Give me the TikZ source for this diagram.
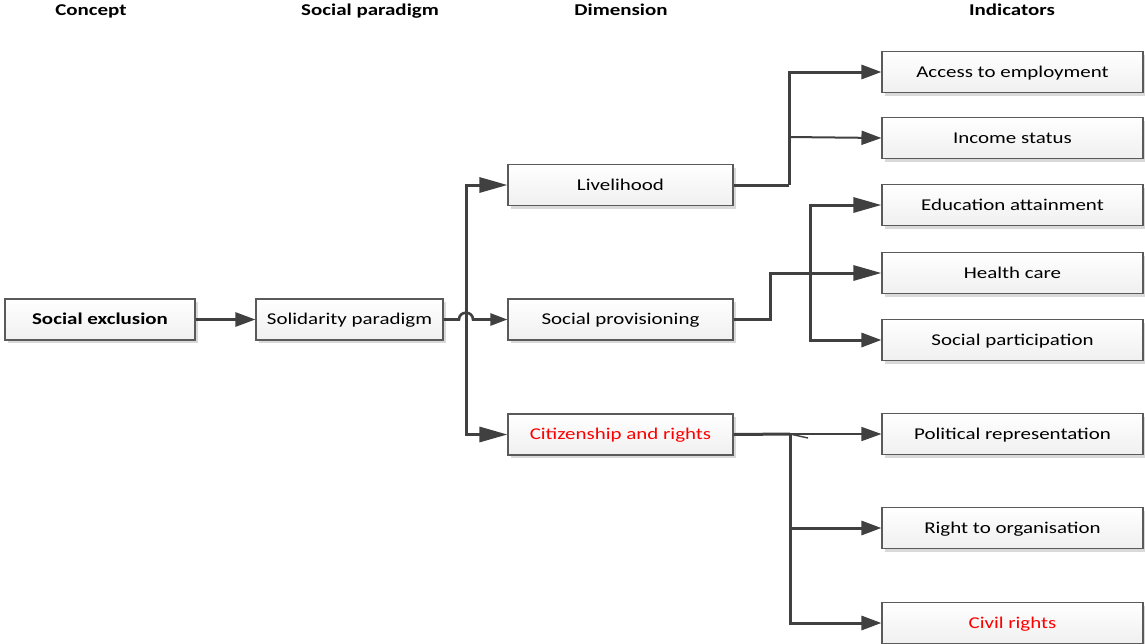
\documentclass[tikz,border=0pt]{standalone}
\usepackage{fontspec}
\setmainfont{Carlito}[FakeStretch=1.27]
\usetikzlibrary{arrows.meta,shadows,calc}
\definecolor{ln}{HTML}{404040}
\definecolor{bd}{HTML}{5A5A5A}
\definecolor{txtred}{HTML}{FF0000}
\tikzset{
  box/.style={draw=bd, line width=1.1pt, top color=white, bottom color=gray!12,
    minimum height=41pt, inner sep=0pt, text height=12.5pt, text depth=2pt,
    font=\fontsize{16.5}{20}\selectfont,
    drop shadow={shadow xshift=3pt, shadow yshift=-3pt, fill=gray!30, opacity=1}},
  dimbox/.style={box, minimum width=225pt},
  indbox/.style={box, minimum width=261pt},
  hdr/.style={font=\fontsize{16.5}{19}\selectfont\bfseries, inner sep=0pt, text height=12pt, text depth=3pt},
  conn/.style={draw=ln, line width=3pt},
  thin/.style={draw=ln, line width=2pt},
  bigtip/.style={-{Triangle[length=28pt,width=15pt]}},
  midtip/.style={-{Triangle[length=20pt,width=14pt]}},
  smalltip/.style={-{Triangle[length=17pt,width=12pt]}},
}
\begin{document}
\begin{tikzpicture}[x=1pt,y=-1pt]
\useasboundingbox (0,0) rectangle (1145,643);

% headers
\node[hdr] (h1) at (91,11) {Concept};
\node[hdr] (h2) at (370,11) {Social paradigm};
\node[hdr] (h3) at (621,11) {Dimension};
\node[hdr] (h4) at (1012,11) {Indicators};

% concept & paradigm
\node[box, minimum width=190pt, font=\fontsize{16.5}{20}\selectfont\bfseries] (excl) at (100,319.5) {Social exclusion};
\node[box, minimum width=187pt] (soli) at (349.5,319.5) {Solidarity paradigm};

% dimensions
\node[dimbox] (live) at (620.5,185) {Livelihood};
\node[dimbox] (prov) at (620.5,319.5) {Social provisioning};
\node[dimbox, text=txtred] (citi) at (620.5,434.5) {Citizenship and rights};

% indicators
\node[indbox] (emp) at (1012.5,72) {Access to employment};
\node[indbox] (inc) at (1012.5,138) {Income status};
\node[indbox] (edu) at (1012.5,205) {Education attainment};
\node[indbox] (hea) at (1012.5,273) {Health care};
\node[indbox] (par) at (1012.5,340) {Social participation};
\node[indbox] (pol) at (1012.5,434) {Political representation};
\node[indbox] (org) at (1012.5,528) {Right to organisation};
\node[indbox, text=txtred] (civ) at (1012.5,623) {Civil rights};

% concept -> paradigm
\draw[conn, line width=2.6pt, midtip] (excl.east) -- (soli.west);

% paradigm -> dimensions
\coordinate (tr) at (466,319.5);
\draw[conn, bigtip] (tr) |- (live.west);
\draw[conn, bigtip] (tr) |- (citi.west);
\draw[conn, line width=2.6pt, smalltip] (soli.east) -- ($(tr)+(-7,0)$)
   .. controls ($(tr)+(-7,-9)$) and ($(tr)+(7,-9)$) .. ($(tr)+(7,0)$) -- (prov.west);

% livelihood -> indicators
\coordinate (lj) at (789,185);
\draw[conn] (live.east) -- (lj);
\draw[conn, midtip] (lj) |- (emp.west);
\draw[thin, midtip] (lj |- inc.west) ++(0,-1) -- (inc.west);

% provisioning -> indicators
\draw[conn, bigtip] (prov.east) -- ++(37,0) |- (hea.west);
\coordinate (pj) at (810,273);
\draw[conn, bigtip] (pj) |- (edu.west);
\draw[conn, midtip] (pj) |- (par.west);

% citizenship -> indicators
\coordinate (cj) at (790,434);
\draw[conn] (citi.east) -- (cj);
\draw[thin, line width=1.6pt, midtip] (cj) -- (pol.west);
\draw[thin, line width=1.4pt] (cj) -- ++(18,4);
\draw[conn, midtip] (cj) |- (civ.west);
\draw[conn, midtip] (cj |- org.west) -- (org.west);
\end{tikzpicture}
\end{document}
